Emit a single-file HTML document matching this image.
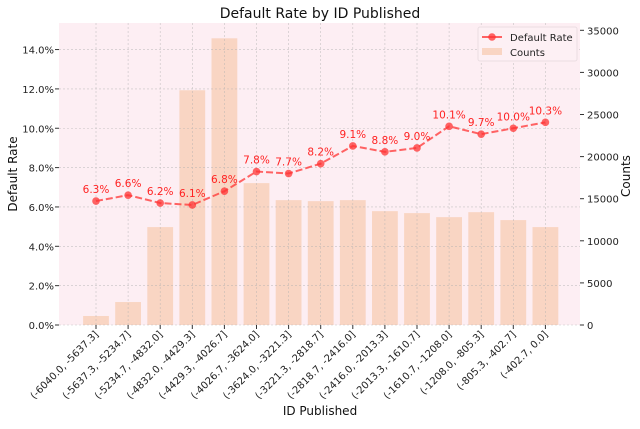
<!DOCTYPE html>
<html><head><meta charset="utf-8"><style>
body{margin:0;background:#fff;width:640px;height:424px;overflow:hidden}
svg text{font-family:"DejaVu Sans","Liberation Sans",sans-serif}
</style></head><body>
<svg id="chart" width="640" height="424" xmlns="http://www.w3.org/2000/svg"></svg>
<script>
const categories=["(-6040.0, -5637.3]","(-5637.3, -5234.7]","(-5234.7, -4832.0]","(-4832.0, -4429.3]","(-4429.3, -4026.7]","(-4026.7, -3624.0]","(-3624.0, -3221.3]","(-3221.3, -2818.7]","(-2818.7, -2416.0]","(-2416.0, -2013.3]","(-2013.3, -1610.7]","(-1610.7, -1208.0]","(-1208.0, -805.3]","(-805.3, -402.7]","(-402.7, 0.0]"];
const counts=[1070,2730,11630,27880,34050,16850,14830,14710,14830,13520,13290,12810,13400,12460,11630];
const rates=[6.3,6.6,6.2,6.1,6.8,7.8,7.7,8.2,9.1,8.8,9.0,10.1,9.7,10.0,10.3];
const leftTicks=[0,2,4,6,8,10,12,14];
const rightTicks=[0,5000,10000,15000,20000,25000,30000,35000];

const svg=document.getElementById('chart');
const NS='http://www.w3.org/2000/svg';
const L=59,R=580,T=23,B=325;
const x0=96,step=32.1;
function xs(i){return x0+i*step;}
function yl(v){return B-v*(39.35/2);}
function yr(v){return B-v*(42.1/5000);}
function mk(tag,attrs,parent){const e=document.createElementNS(NS,tag);for(const k in attrs)e.setAttribute(k,attrs[k]);(parent||svg).appendChild(e);return e;}
function txt(s,attrs,parent){const e=mk('text',attrs,parent);e.textContent=s;return e;}

let bg=mk('rect',{x:L,y:T,width:R-L,height:B-T,fill:'#fdeef3'});


const barsG=mk('g',{});


counts.forEach((c,i)=>{
  const r=mk('rect',{x:xs(i)-12.9,y:yr(c),width:25.8,height:B-yr(c),fill:'#f9d5c3'},barsG);
  
  
});
const grid=mk('g',{stroke:'#b0b0b0','stroke-width':0.6,'stroke-dasharray':'2,2',opacity:0.7});


leftTicks.forEach(v=>mk('line',{x1:L,x2:R,y1:yl(v),y2:yl(v)},grid));
categories.forEach((c,i)=>mk('line',{x1:xs(i),x2:xs(i),y1:T,y2:B},grid));
const pts=rates.map((v,i)=>xs(i)+','+yl(v)).join(' ');
let pl=mk('polyline',{points:pts,fill:'none',stroke:'#ff3333','stroke-width':2,'stroke-dasharray':'7,3',opacity:0.75});


rates.forEach((v,i)=>{
  const c=mk('circle',{cx:xs(i),cy:yl(v),r:3.8,fill:'#ff3333',opacity:0.75});
  
  
  const t=txt(v.toFixed(1)+'%',{x:xs(i),y:yl(v)-8,'text-anchor':'middle','font-size':10.5,fill:'#ff2222'});
  
  
});
leftTicks.forEach(v=>{
  mk('line',{x1:L-4,x2:L,y1:yl(v),y2:yl(v),stroke:'#333'});
  const t=txt(v.toFixed(1)+'%',{x:L-5,y:yl(v)+4,'text-anchor':'end','font-size':10,fill:'#222'});
  
  
});
rightTicks.forEach(v=>{
  mk('line',{x1:R,x2:R+4,y1:yr(v),y2:yr(v),stroke:'#333'});
  const t=txt(String(v),{x:R+7,y:yr(v)+4,'font-size':10,fill:'#222'});
  
  
});
categories.forEach((c,i)=>{
  mk('line',{x1:xs(i),x2:xs(i),y1:B,y2:B+4,stroke:'#333'});
  const t=txt(c,{x:xs(i)+3,y:B+10,'text-anchor':'end','font-size':10,fill:'#222',transform:'rotate(-45 '+(xs(i)+3)+' '+(B+10)+')'});
  
  
});
</script>
<svg style="position:absolute;left:0;top:0" width="640" height="424" xmlns="http://www.w3.org/2000/svg">
<text x="320" y="18" text-anchor="middle" font-size="14" fill="#111" font-family="DejaVu Sans,sans-serif">Default Rate by ID Published</text>
<text x="320" y="415" text-anchor="middle" font-size="12" fill="#111" font-family="DejaVu Sans,sans-serif">ID Published</text>
<text x="17" y="174" text-anchor="middle" font-size="12" fill="#111" font-family="DejaVu Sans,sans-serif" transform="rotate(-90 17 174)">Default Rate</text>
<text x="630" y="176" text-anchor="middle" font-size="12" fill="#111" font-family="DejaVu Sans,sans-serif" transform="rotate(-90 630 176)">Counts</text>
<g>
<rect x="478" y="27" width="99" height="34" fill="#fdf0f4" stroke="#eadde2" rx="2"/>
<line x1="482" y1="37" x2="502" y2="37" stroke="#ff3333" stroke-width="2" opacity="0.75"/>
<circle cx="492" cy="37" r="3.8" fill="#ff3333" opacity="0.75"/>
<text x="510" y="41" font-size="10" fill="#222" font-family="DejaVu Sans,sans-serif">Default Rate</text>
<rect x="482" y="48" width="20" height="7" fill="#f9d5c3"/>
<text x="510" y="56" font-size="10" fill="#222" font-family="DejaVu Sans,sans-serif">Counts</text>
</g>
</svg>
</body></html>
